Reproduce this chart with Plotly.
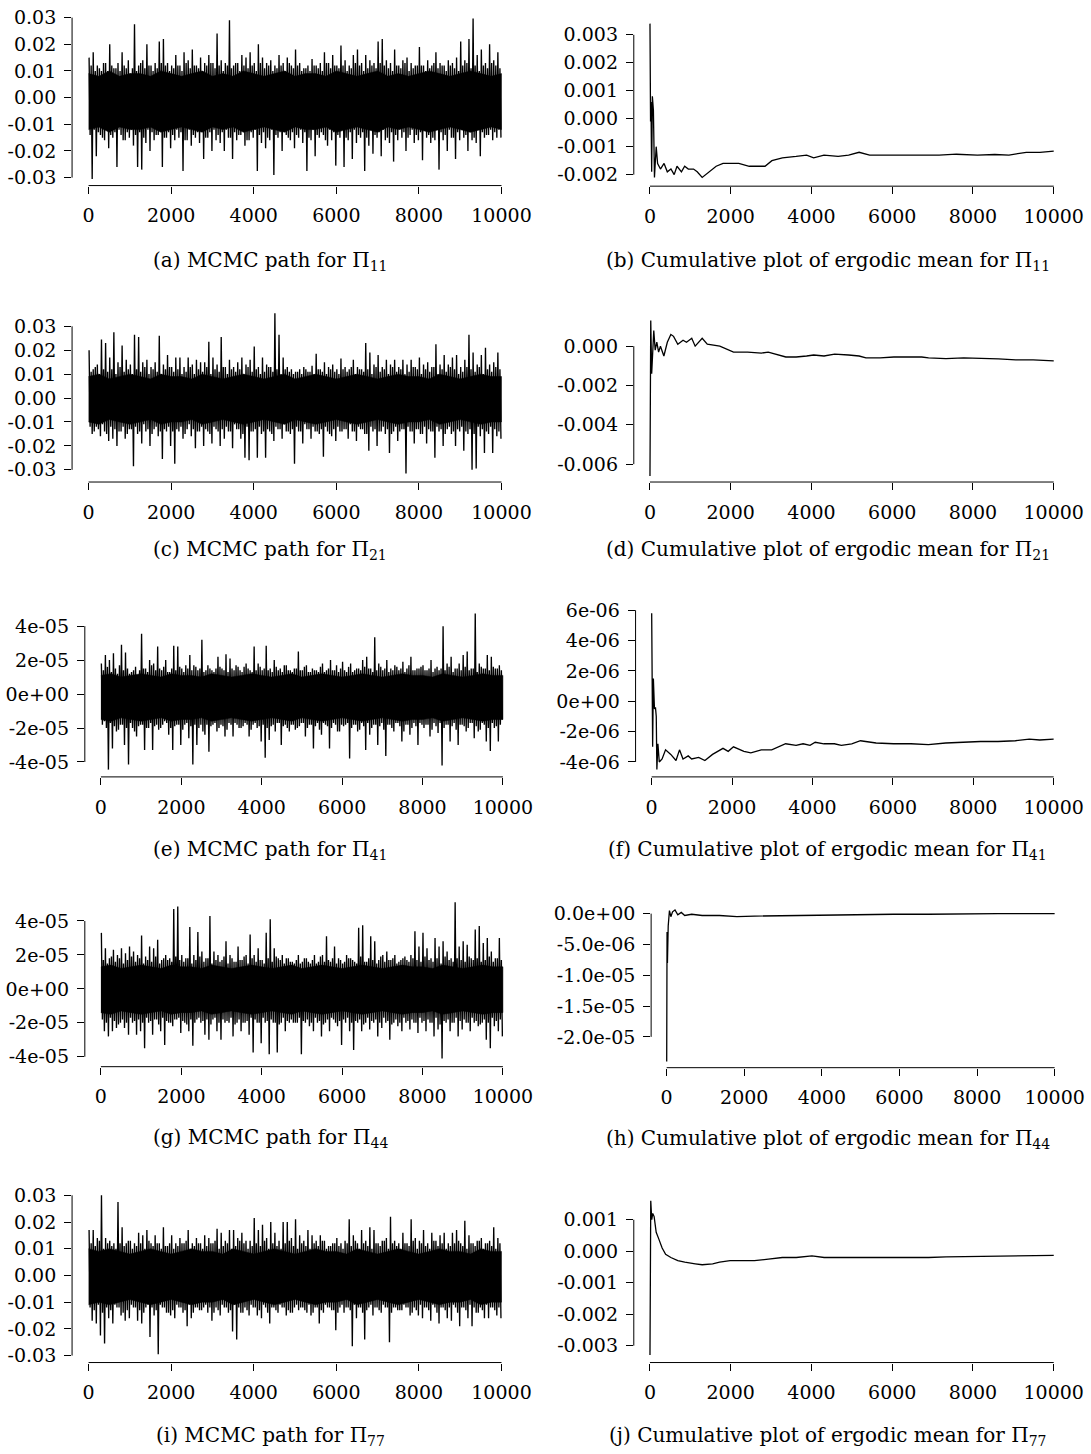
import numpy as np
import plotly.graph_objects as go

W, H = 1091, 1454
N_ITER = 10000
BIN = 100
XS = 1.014  # horizontal calibration of pixel positions

# ---------------- MCMC paths, per 100-iteration bin ----------------
# *_hi / *_lo : tallest upward / downward excursion in the bin
# *_hi2 / *_lo2 : height of the dense fringe next to it
# Pi_11  (units 1e-3)
pi11_hi = [15, 17, 12, 10, 13, 20, 11, 13, 17, 11,
           9, 27.5, 12, 14, 20, 12, 13, 21, 22, 13,
           12, 16, 12, 17, 14, 18, 12, 15, 13, 16,
           13, 24, 14, 13, 29, 12, 13, 16, 15, 17,
           13, 20, 15, 13, 14, 12, 16, 13, 15, 12,
           18, 13, 11, 12, 14.5, 12, 13, 17, 13, 16,
           12, 19.5, 14, 12, 16, 18, 13, 16, 14, 13,
           21, 22, 14, 13, 18, 12, 14, 15, 13, 12,
           19, 12, 14, 12, 17, 13, 12, 14, 13, 15,
           21, 14, 22, 29.7, 16, 18, 13, 20, 14, 17]
pi11_lo = [-30.5, -22, -14, -16, -19, -15, -26, -14, -16, -15,
           -18, -26, -27, -17, -20, -16, -14, -26, -15, -19,
           -16, -15, -27.5, -16, -18, -15, -17, -23, -15, -20,
           -16, -17, -20, -15, -23, -16, -14, -18, -16, -15,
           -27.5, -17, -19, -16, -29, -15, -20, -14, -16, -19,
           -15, -17, -27.5, -16, -22, -15, -14, -18, -16, -25.5,
           -15, -26, -16, -23, -17, -15, -27.5, -18, -21, -15,
           -22, -16, -17, -24, -16, -15, -20, -14, -17, -16,
           -23.5, -15, -17, -16, -27, -16, -20, -15, -23, -16,
           -15, -20, -16, -17, -22, -15, -14, -16, -15, -15]
pi11_hi2 = [12, 10, 11, 13, 10, 12, 11, 10, 12, 14, 11, 10, 13, 11, 12, 10, 11, 13, 12, 10,
            11, 12, 10, 13, 11, 12, 11, 10, 12, 13, 11, 12, 10, 12, 11, 13, 10, 12, 11, 12,
            10, 13, 11, 12, 10, 11, 12, 10, 13, 11, 12, 10, 11, 10, 12, 11, 10, 13, 11, 12,
            11, 12, 10, 11, 13, 12, 10, 11, 12, 11, 13, 12, 11, 10, 12, 11, 13, 10, 11, 12,
            12, 10, 11, 13, 11, 12, 10, 12, 11, 10, 12, 13, 11, 12, 10, 12, 11, 13, 12, 11]
pi11_lo2 = [-14, -12, -13, -15, -12, -14, -13, -12, -16, -13, -12, -14, -13, -15, -12, -13,
            -14, -12, -15, -13, -14, -12, -13, -16, -12, -14, -13, -12, -15, -13, -12, -14,
            -13, -12, -15, -13, -14, -12, -16, -13, -12, -14, -13, -15, -12, -14, -13, -12,
            -15, -13, -14, -12, -13, -15, -12, -14, -13, -16, -12, -13, -14, -12, -15, -13,
            -12, -14, -13, -15, -12, -14, -13, -12, -15, -13, -14, -12, -13, -15, -12, -14,
            -13, -12, -14, -15, -12, -13, -14, -12, -15, -13, -12, -14, -13, -15, -12, -13,
            -14, -12, -13, -12]
pi11_core_hi = [9, 8, 10, 8, 9, 9, 8, 10, 9, 8, 9, 10, 8, 9, 8, 10, 9, 8, 9, 10,
                8, 9, 9, 8, 10, 9, 8, 9, 10, 8, 9, 8, 9, 10, 9, 8, 9, 10, 9, 8, 9]
pi11_core_lo = [-12, -11, -13, -11, -12, -12, -11, -13, -12, -11, -12, -13, -11, -12, -11,
                -13, -12, -11, -12, -13, -11, -12, -12, -11, -13, -12, -11, -12, -13, -11,
                -12, -11, -12, -13, -12, -11, -12, -13, -12, -11, -12]

# Pi_21  (units 1e-3)
pi21_hi = [20, 12, 14, 24.5, 23, 17, 27.5, 15, 22, 16,
           14, 26.5, 25.5, 15, 16, 13, 15, 26, 14, 18,
           13, 17, 17, 13, 17, 14, 16, 15, 15, 23.5,
           17, 14, 25.5, 13, 16, 13, 15, 17, 14, 16,
           21.5, 13, 17, 14, 13, 35.5, 26.5, 17, 13, 12,
           11, 12, 13, 11, 13.5, 18.5, 12, 15, 13, 14,
           12, 16.5, 13, 12, 16, 13, 12, 23, 19, 14,
           18, 13, 16, 14, 16, 13, 16, 14, 16, 13,
           17, 14, 15, 13, 22.5, 14, 18, 14, 17, 18,
           13, 16, 26.5, 19, 14, 18, 21, 14, 15, 19]
pi21_lo = [-15, -12, -16, -14, -18, -17, -20, -14, -17, -13,
           -28.5, -15, -19, -14, -20, -13, -16, -25.5, -14, -20,
           -27.5, -14, -17, -13, -16, -21, -14, -20, -14, -19,
           -13, -20, -17, -14, -21, -13, -17, -25, -26, -14,
           -25, -15, -25, -14, -18, -13, -17, -14, -15, -27.5,
           -14, -19, -13, -17, -14, -15, -24.5, -14, -16, -18,
           -14, -13, -17, -14, -18, -13, -15, -22, -14, -20,
           -14, -15, -23, -14, -18, -13, -31.5, -14, -19, -13,
           -15, -19, -14, -25, -14, -20, -13, -15, -20, -14,
           -22, -15, -30, -29.5, -16, -23, -15, -23, -16, -17]
pi21_hi2 = [11, 13, 10, 12, 11, 12, 10, 13, 11, 12, 10, 12, 11, 13, 10, 12, 11, 10, 12, 13,
            11, 12, 10, 11, 13, 10, 12, 11, 13, 10, 12, 11, 13, 10, 12, 11, 12, 10, 13, 11,
            12, 10, 11, 13, 11, 12, 10, 12, 11, 10, 11, 10, 12, 11, 10, 12, 11, 10, 12, 11,
            10, 12, 11, 13, 10, 12, 11, 12, 10, 13, 11, 12, 10, 13, 11, 12, 10, 11, 13, 12,
            10, 12, 11, 13, 10, 12, 11, 13, 12, 10, 11, 13, 12, 11, 13, 10, 12, 11, 13, 12]
pi21_lo2 = [-12, -14, -13, -11, -15, -12, -13, -14, -12, -15, -13, -12, -14, -11, -13, -15,
            -12, -14, -13, -12, -14, -13, -12, -15, -11, -13, -14, -12, -13, -15, -12, -14,
            -13, -12, -14, -11, -13, -15, -12, -14, -13, -12, -14, -13, -15, -12, -13, -11,
            -14, -13, -12, -14, -11, -13, -12, -14, -13, -12, -15, -13, -12, -14, -13, -11,
            -14, -12, -13, -15, -12, -13, -14, -12, -13, -15, -12, -14, -13, -12, -14, -13,
            -15, -12, -13, -14, -12, -13, -15, -12, -14, -13, -12, -14, -13, -15, -12, -13,
            -14, -12, -13, -14]
pi21_core_hi = [9, 10, 8, 9, 10, 9, 8, 10, 9, 9, 8, 10, 9, 8, 9, 10, 9, 8, 9, 10,
                8, 9, 10, 9, 8, 9, 10, 9, 8, 9, 10, 9, 9, 8, 10, 9, 8, 9, 10, 9, 9]
pi21_core_lo = [-10, -11, -9, -10, -11, -10, -9, -11, -10, -10, -9, -11, -10, -9, -10,
                -11, -10, -9, -10, -11, -9, -10, -11, -10, -9, -10, -11, -10, -9, -10,
                -11, -10, -10, -9, -11, -10, -9, -10, -11, -10, -10]

# Pi_41  (units 1e-6)
pi41_hi = [18, 23, 20, 24, 12, 29, 24.5, 12, 14, 11,
           35.5, 15, 20, 18, 28, 14, 20, 13, 28.5, 28,
           15, 17, 23, 17, 14, 32, 14, 15, 13, 22,
           15, 23.5, 21, 14, 16, 13, 18, 14, 28, 18,
           14, 28.5, 15, 20, 14, 13, 17, 14, 15, 25,
           14, 17, 13, 14, 13, 18, 14, 20, 14, 13,
           19, 13, 18, 14, 15, 20, 22, 15, 33.5, 18,
           14, 20, 15, 17, 14, 19, 15, 22, 14, 15,
           17, 14, 20, 15, 14, 40, 18, 22, 15, 18,
           23, 25, 15, 47.5, 18, 15, 23, 22, 15, 17]
pi41_lo = [-16, -44.5, -32, -22, -18, -30, -41.5, -20, -25, -18,
           -33, -20, -33, -18, -20, -16, -24, -33, -18, -30,
           -18, -26, -41.5, -30, -18, -24, -34, -18, -22, -18,
           -25, -17, -25, -18, -20, -17, -25, -18, -20, -28,
           -37.5, -27, -18, -17, -30, -18, -22, -18, -20, -17,
           -25, -18, -32, -17, -24, -18, -32, -17, -22, -18,
           -18, -38, -18, -22, -17, -33, -24, -18, -30, -17,
           -36.5, -18, -22, -17, -28, -18, -24, -17, -30, -18,
           -18, -25, -17, -23, -42, -18, -28, -17, -30, -18,
           -22, -17, -26, -22, -17, -28, -33.5, -20, -28, -15]
pi41_hi2 = [14, 16, 13, 15, 17, 14, 15, 13, 16, 14, 15, 13, 17, 14, 15, 16, 13, 15, 14, 16,
            13, 15, 14, 16, 15, 13, 17, 14, 15, 16, 14, 13, 15, 17, 14, 16, 15, 13, 14, 16,
            15, 14, 13, 16, 15, 17, 14, 13, 15, 14, 16, 13, 15, 14, 16, 13, 15, 14, 17, 15,
            14, 16, 13, 15, 14, 16, 15, 13, 14, 16, 15, 13, 14, 16, 15, 13, 17, 14, 15, 16,
            14, 15, 13, 16, 15, 14, 16, 13, 15, 14, 16, 14, 15, 13, 16, 15, 14, 16, 15, 14]
pi41_lo2 = [-18, -20, -17, -19, -21, -18, -20, -17, -22, -19, -18, -20, -17, -19, -21, -18,
            -17, -20, -19, -18, -21, -17, -19, -18, -20, -22, -18, -19, -17, -20, -19, -21,
            -18, -17, -20, -19, -18, -21, -17, -19, -18, -20, -19, -22, -17, -19, -20, -18,
            -21, -19, -17, -20, -18, -19, -21, -17, -19, -20, -18, -22, -19, -17, -20, -18,
            -21, -19, -17, -20, -18, -19, -21, -18, -20, -17, -19, -22, -18, -20, -19, -17,
            -20, -18, -21, -19, -17, -20, -18, -19, -21, -18, -19, -20, -17, -19, -21, -18,
            -20, -17, -19, -18]
pi41_core_hi = [11, 12, 10, 11, 12, 11, 10, 12, 11, 11, 10, 12, 11, 10, 11, 12, 11, 10, 11, 12,
                10, 11, 12, 11, 10, 11, 12, 11, 10, 11, 12, 11, 11, 10, 12, 11, 10, 11, 12, 11, 11]
pi41_core_lo = [-15, -16, -14, -15, -16, -15, -14, -16, -15, -15, -14, -16, -15, -14, -15,
                -16, -15, -14, -15, -16, -14, -15, -16, -15, -14, -15, -16, -15, -14, -15,
                -16, -15, -15, -14, -16, -15, -14, -15, -16, -15, -15]

# Pi_44  (units 1e-6)
pi44_hi = [33, 24, 18, 23, 20, 24, 21, 25, 22, 20,
           31.5, 19, 25, 24, 29, 17, 20, 18, 47, 48.5,
           20, 18, 36.5, 20, 33.5, 22, 18, 43, 22, 20,
           17, 28, 20, 16, 25, 17, 20, 32, 20, 24,
           17, 33, 41, 24, 18, 20, 18, 16, 15, 20,
           16, 18, 15, 20, 16, 20, 31, 16, 25, 18,
           15, 20, 18, 16, 36, 37.5, 16, 31, 28, 17,
           20, 22, 17, 20, 16, 18, 17, 20, 34, 25,
           33, 24, 18, 30, 25, 28, 22, 18, 51, 25,
           28, 26, 18, 35, 37, 27, 30, 22, 18, 30]
pi44_lo = [-25, -28, -25, -23, -20, -23, -27, -20, -27, -25,
           -35, -20, -27, -18, -25, -33, -20, -22, -18, -26,
           -20, -25, -33.5, -18, -20, -27, -30, -18, -25, -30,
           -20, -20, -28, -20, -25, -20, -27, -37.5, -20, -32,
           -20, -38.5, -20, -37.5, -20, -25, -20, -20, -20, -38.5,
           -20, -22, -25, -20, -28, -20, -25, -18, -22, -33,
           -20, -25, -36, -20, -25, -20, -24, -20, -28, -23,
           -20, -30, -20, -22, -25, -20, -24, -20, -26, -20,
           -25, -20, -28, -24, -41, -20, -25, -20, -28, -24,
           -20, -25, -20, -22, -20, -30, -35, -22, -25, -28]
pi44_hi2 = [17, 15, 19, 16, 18, 15, 17, 19, 16, 18, 15, 17, 16, 19, 15, 18, 17, 16, 19, 17,
            16, 18, 15, 17, 19, 16, 18, 15, 17, 16, 19, 15, 18, 16, 17, 19, 15, 18, 16, 17,
            15, 18, 16, 19, 17, 15, 18, 16, 17, 15, 18, 16, 17, 15, 19, 16, 17, 18, 15, 17,
            16, 18, 17, 15, 19, 16, 18, 17, 15, 19, 16, 17, 18, 15, 17, 19, 16, 18, 17, 16,
            19, 17, 16, 18, 15, 19, 17, 16, 18, 17, 16, 19, 17, 18, 16, 17, 19, 16, 18, 17]
pi44_lo2 = [-18, -20, -17, -19, -21, -18, -20, -17, -19, -18, -20, -17, -19, -18, -21, -17,
            -19, -20, -18, -17, -19, -21, -18, -20, -17, -19, -18, -21, -17, -20, -18, -19,
            -17, -21, -18, -20, -19, -17, -18, -20, -17, -19, -18, -20, -21, -17, -19, -18,
            -20, -17, -19, -18, -20, -17, -19, -21, -18, -17, -20, -19, -18, -17, -20, -19,
            -18, -21, -17, -19, -18, -20, -17, -19, -21, -18, -20, -17, -19, -18, -20, -17,
            -19, -18, -20, -17, -21, -19, -18, -20, -17, -19, -18, -20, -17, -19, -21, -18,
            -20, -17, -19, -18]
pi44_core_hi = [13, 14, 12, 13, 14, 13, 12, 14, 13, 13, 12, 14, 13, 12, 13, 14, 13, 12, 13, 14,
                12, 13, 14, 13, 12, 13, 14, 13, 12, 13, 14, 13, 13, 12, 14, 13, 12, 13, 14, 13, 13]
pi44_core_lo = [-14, -15, -13, -14, -15, -14, -13, -15, -14, -14, -13, -15, -14, -13, -14,
                -15, -14, -13, -14, -15, -13, -14, -15, -14, -13, -14, -15, -14, -13, -14,
                -15, -14, -14, -13, -15, -14, -13, -14, -15, -14, -14]

# Pi_77  (units 1e-3)
pi77_hi = [17, 17, 14, 30, 14, 13, 12, 27.5, 18, 12,
           13, 12, 16, 15, 17, 12, 15, 12, 18, 11,
           15, 12, 14, 12, 17, 12, 14, 12, 15, 14,
           12, 17.5, 16, 13, 17, 17, 14, 16, 13, 13,
           21.5, 17, 19, 14, 20, 16, 13, 20, 20, 14,
           21, 15, 13, 17, 15, 13, 15, 13, 11, 12,
           14, 12, 13, 21, 15, 12, 17, 13, 18, 17,
           12, 13, 14, 22, 13, 12, 16, 12, 21, 14,
           13, 17, 12, 16, 13, 15, 16, 12, 16, 17,
           12, 20.5, 15, 12, 13, 14, 12, 13, 18, 14]
pi77_lo = [-17, -18, -22.5, -25.5, -16, -18, -12, -15, -17, -16,
           -12, -17, -18, -12, -23, -15, -29.5, -12, -14, -15,
           -16, -12, -14, -19, -16, -12, -13, -12, -14, -17,
           -12, -15, -12, -14, -21, -24, -14, -12, -15, -12,
           -15, -16, -12, -18, -12, -14, -12, -15, -14, -12,
           -13, -12, -14, -15, -12, -18, -14, -12, -13, -20.5,
           -12, -14, -12, -26.5, -16, -12, -24, -12, -15, -12,
           -14, -12, -25, -12, -13, -13, -12, -15, -12, -15,
           -16, -12, -17, -12, -18, -12, -16, -17, -12, -19,
           -12, -16, -19, -14, -12, -16, -16, -12, -15, -16]
pi77_hi2 = [12, 11, 13, 10, 12, 11, 10, 12, 11, 13, 10, 11, 12, 10, 13, 11, 12, 10, 11, 12,
            10, 11, 12, 13, 10, 11, 12, 10, 11, 12, 13, 10, 11, 12, 10, 11, 13, 12, 10, 11,
            12, 11, 13, 10, 12, 11, 10, 12, 13, 11, 10, 12, 11, 10, 12, 11, 13, 10, 11, 12,
            11, 10, 12, 11, 13, 10, 12, 11, 10, 12, 11, 13, 10, 12, 11, 10, 12, 11, 13, 10,
            12, 11, 10, 13, 11, 12, 10, 11, 12, 13, 11, 10, 12, 11, 13, 10, 12, 11, 10, 12]
pi77_lo2 = [-12, -13, -11, -14, -12, -13, -11, -12, -14, -13, -11, -12, -13, -14, -11, -12,
            -13, -11, -12, -14, -13, -11, -12, -13, -11, -14, -12, -13, -11, -12, -14, -13,
            -11, -12, -13, -11, -12, -14, -13, -11, -12, -13, -11, -14, -12, -13, -11, -12,
            -13, -14, -11, -12, -13, -11, -14, -12, -13, -11, -12, -13, -14, -11, -12, -13,
            -11, -12, -14, -13, -11, -12, -13, -11, -12, -14, -12, -13, -11, -12, -14, -13,
            -11, -12, -13, -11, -14, -12, -13, -12, -11, -14, -12, -13, -11, -12, -14, -13,
            -11, -12, -13, -12]
pi77_core_hi = [10, 9, 10, 9, 8, 9, 10, 9, 8, 9, 10, 9, 9, 8, 10, 9, 8, 9, 10, 9,
                8, 9, 10, 9, 9, 8, 10, 9, 8, 9, 10, 9, 8, 9, 10, 9, 9, 8, 10, 9, 9]
pi77_core_lo = [-11, -10, -11, -10, -9, -10, -11, -10, -9, -10, -11, -10, -10, -9, -11,
                -10, -9, -10, -11, -10, -9, -10, -11, -10, -10, -9, -11, -10, -9, -10,
                -11, -10, -9, -10, -11, -10, -10, -9, -11, -10, -10]

core_iter = [250 * k for k in range(41)]

# ---------------- cumulative ergodic means ----------------
cm11_iter = [1, 8, 15, 25, 43, 60, 86, 112, 135, 155, 190, 260, 350, 430, 520, 600, 670, 780,
             860, 950, 1080, 1170, 1294, 1460, 1640, 1810, 1980, 2200, 2460, 2650, 2850, 3020,
             3280, 3620, 3880, 4055, 4310, 4660, 4920, 5180, 5440, 5700, 6040, 6470, 6820,
             7160, 7590, 8110, 8540, 8890, 9320, 9660, 10000]
cm11_val = [0.0034, 0.0010, -0.0001, 0.0006, -0.0019, 0.0008, 0.0003, -0.0021, -0.0015, -0.0010,
            -0.0016, -0.0018, -0.0016, -0.0019, -0.0018, -0.0020, -0.0017, -0.0019, -0.0017,
            -0.0018, -0.0018, -0.0019, -0.0021, -0.0019, -0.0017, -0.0016, -0.0016, -0.0016,
            -0.0017, -0.0017, -0.0017, -0.0015, -0.0014, -0.00135, -0.0013, -0.0014, -0.0013,
            -0.00135, -0.0013, -0.0012, -0.0013, -0.0013, -0.0013, -0.00132, -0.00132, -0.0013,
            -0.00127, -0.0013, -0.00128, -0.0013, -0.0012, -0.0012, -0.00116]

cm21_iter = [1, 20, 43, 70, 95, 130, 170, 215, 260, 345, 430, 518, 585, 690, 820, 905, 1035,
             1120, 1294, 1420, 1730, 2070, 2420, 2760, 2930, 3365, 3620, 3880, 4055, 4310, 4573,
             4920, 5180, 5350, 5700, 6040, 6470, 6730, 6900, 7330, 7770, 8200, 8630, 9060, 9490,
             10000]
cm21_val = [-0.0066, 0.0013, -0.0014, -0.0004, 0.0008, -0.0002, 0.0002, -0.0003, 0.0000, -0.0005,
            0.0002, 0.0006, 0.0005, 0.0001, 0.0003, 0.0002, 0.0004, 0.0000, 0.0004, 0.0001,
            0.0000, -0.0003, -0.0003, -0.00035, -0.0003, -0.00055, -0.00055, -0.0005, -0.00045,
            -0.0005, -0.0004, -0.00045, -0.0005, -0.0006, -0.0006, -0.00055, -0.00055, -0.00055,
            -0.0006, -0.00063, -0.0006, -0.00062, -0.00065, -0.0007, -0.0007, -0.00075]

# units 1e-6
cm41_iter = [1, 25, 43, 70, 95, 115, 130, 156, 190, 260, 346, 476, 606, 693, 780, 910, 995,
             1170, 1325, 1515, 1775, 1905, 2035, 2295, 2468, 2727, 2987, 3333, 3593, 3766, 3940,
             4069, 4286, 4545, 4719, 4978, 5195, 5584, 6017, 6450, 6883, 7316, 7749, 8182, 8615,
             9048, 9394, 9654, 10000]
cm41_val = [5.8, -3.0, 1.5, -0.5, -0.4, -1.0, -4.5, -2.8, -4.0, -3.8, -3.2, -3.5, -3.9, -3.2,
            -3.8, -3.6, -3.8, -3.7, -3.9, -3.5, -3.1, -3.3, -3.0, -3.3, -3.4, -3.2, -3.2, -2.8,
            -2.9, -2.8, -2.9, -2.7, -2.8, -2.8, -2.9, -2.8, -2.6, -2.75, -2.8, -2.8, -2.85,
            -2.75, -2.7, -2.65, -2.65, -2.6, -2.5, -2.55, -2.5]

# units 1e-6
cm44_iter = [1, 10, 20, 40, 72, 108, 152, 215, 287, 377, 466, 645, 915, 1363, 1812, 2260, 3157,
             4054, 4951, 5848, 6745, 7642, 8539, 10000]
cm44_val = [-24, -3, -8, -2, 0.5, -0.5, 0.3, 0.6, -0.2, 0.2, -0.3, -0.1, -0.3, -0.3, -0.5, -0.4,
            -0.3, -0.2, -0.1, -0.1, -0.1, 0.0, 0.0, 0.0]

cm77_iter = [1, 20, 45, 69, 104, 155, 216, 302, 388, 518, 690, 863, 1122, 1294, 1553, 1726, 1984,
             2243, 2588, 2933, 3279, 3624, 4012, 4314, 4745, 5177, 5608, 6040, 6471, 6902, 7334,
             7765, 8628, 9491, 10000]
cm77_val = [-0.0033, 0.0016, 0.0010, 0.0012, 0.0011, 0.0006, 0.0004, 0.0001, -0.0001, -0.0002,
            -0.0003, -0.00035, -0.0004, -0.00043, -0.0004, -0.00035, -0.0003, -0.0003, -0.0003,
            -0.00025, -0.0002, -0.0002, -0.00015, -0.0002, -0.0002, -0.00022, -0.0002, -0.00022,
            -0.0002, -0.0002, -0.00018, -0.00017, -0.00015, -0.00014, -0.00013]

# ---------------- tick labels ----------------
x_ticks = [0, 2000, 4000, 6000, 8000, 10000]
x_ticktext = ["0", "2000", "4000", "6000", "8000", "10000"]
yt_path_3 = [-0.03, -0.02, -0.01, 0.0, 0.01, 0.02, 0.03]
yt_path_3_text = ["-0.03", "-0.02", "-0.01", "0.00", "0.01", "0.02", "0.03"]
yt_path_5 = [-4e-05, -2e-05, 0.0, 2e-05, 4e-05]
yt_path_5_text = ["-4e-05", "-2e-05", "0e+00", "2e-05", "4e-05"]
yt_b = [-0.002, -0.001, 0.0, 0.001, 0.002, 0.003]
yt_b_text = ["-0.002", "-0.001", "0.000", "0.001", "0.002", "0.003"]
yt_d = [-0.006, -0.004, -0.002, 0.0]
yt_d_text = ["-0.006", "-0.004", "-0.002", "0.000"]
yt_f = [-4e-06, -2e-06, 0.0, 2e-06, 4e-06, 6e-06]
yt_f_text = ["-4e-06", "-2e-06", "0e+00", "2e-06", "4e-06", "6e-06"]
yt_h = [-2e-05, -1.5e-05, -1e-05, -5e-06, 0.0]
yt_h_text = ["-2.0e-05", "-1.5e-05", "-1.0e-05", "-5.0e-06", "0.0e+00"]
yt_j = [-0.003, -0.002, -0.001, 0.0, 0.001]
yt_j_text = ["-0.003", "-0.002", "-0.001", "0.000", "0.001"]

captions = [
    "(a) MCMC path for \u03a0<sub>11</sub>",
    "(b) Cumulative plot of ergodic mean for \u03a0<sub>11</sub>",
    "(c) MCMC path for \u03a0<sub>21</sub>",
    "(d) Cumulative plot of ergodic mean for \u03a0<sub>21</sub>",
    "(e) MCMC path for \u03a0<sub>41</sub>",
    "(f) Cumulative plot of ergodic mean for \u03a0<sub>41</sub>",
    "(g) MCMC path for \u03a0<sub>44</sub>",
    "(h) Cumulative plot of ergodic mean for \u03a0<sub>44</sub>",
    "(i) MCMC path for \u03a0<sub>77</sub>",
    "(j) Cumulative plot of ergodic mean for \u03a0<sub>77</sub>",
]

# ---------------- layout geometry (pixels) ----------------
FONT = "DejaVu Serif"
TICK_SIZE = 19
CAP_SIZE = 20

# (x-pixel of iteration 0, of 10000), (tick value, pixel), (tick value, pixel), bottom px, top px
geom = [
    (88.5, 501.0, 0.03, 12.7, -0.03, 173.7, 181.7, 6),
    (649.3, 1052.7, 0.003, 30.0, -0.002, 170.7, 182.3, 12),
    (88.5, 501.0, 0.03, 323.3, -0.03, 467.7, 480.0, 305),
    (649.3, 1052.7, 0.0, 343.3, -0.006, 462.0, 480.0, 310),
    (100.8, 502.4, 4e-05, 625.0, -4e-05, 761.7, 776.7, 607),
    (651.0, 1052.6, 6e-06, 609.0, -4e-06, 761.7, 776.7, 602),
    (100.8, 502.4, 4e-05, 921.7, -4e-05, 1058.3, 1068.3, 898),
    (666.0, 1053.6, 0.0, 914.3, -2e-05, 1038.3, 1069.3, 906),
    (88.5, 501.0, 0.03, 1197.7, -0.03, 1359.0, 1366.0, 1191),
    (649.3, 1052.7, 0.001, 1222.3, -0.003, 1349.0, 1366.0, 1196),
]
caption_pos = [(270, 258), (827, 258), (270, 548), (827, 548), (270, 850), (827, 850),
               (270, 1140), (827, 1141), (270, 1440), (827, 1440)]

yticks_all = [(yt_path_3, yt_path_3_text), (yt_b, yt_b_text), (yt_path_3, yt_path_3_text),
              (yt_d, yt_d_text), (yt_path_5, yt_path_5_text), (yt_f, yt_f_text),
              (yt_path_5, yt_path_5_text), (yt_h, yt_h_text), (yt_path_3, yt_path_3_text),
              (yt_j, yt_j_text)]

fig = go.Figure()
shapes = []
annotations = []
layout_axes = {}


def ax_names(n):
    return ("x" if n == 1 else f"x{n}"), ("y" if n == 1 else f"y{n}")


def path_trace(hi, lo2, hi2, lo, unit):
    xs, ys = [], []
    for i in range(len(hi)):
        xs += [BIN * i + 12, BIN * i + 37, BIN * i + 62, BIN * i + 87]
        ys += [hi[i] * unit, lo2[i] * unit, hi2[i] * unit, lo[i] * unit]
    return xs, ys


paths = [(pi11_hi, pi11_lo2, pi11_hi2, pi11_lo, pi11_core_hi, pi11_core_lo, 1e-3),
         (pi21_hi, pi21_lo2, pi21_hi2, pi21_lo, pi21_core_hi, pi21_core_lo, 1e-3),
         (pi41_hi, pi41_lo2, pi41_hi2, pi41_lo, pi41_core_hi, pi41_core_lo, 1e-6),
         (pi44_hi, pi44_lo2, pi44_hi2, pi44_lo, pi44_core_hi, pi44_core_lo, 1e-6),
         (pi77_hi, pi77_lo2, pi77_hi2, pi77_lo, pi77_core_hi, pi77_core_lo, 1e-3)]
means = [(cm11_iter, cm11_val, 1.0), (cm21_iter, cm21_val, 1.0), (cm41_iter, cm41_val, 1e-6),
         (cm44_iter, cm44_val, 1e-6), (cm77_iter, cm77_val, 1.0)]

for k in range(10):
    n = k + 1
    xa, ya = ax_names(n)
    x0p, x1p, vh, ph, vl, pl, pb, pt = geom[k]
    x0p *= XS
    x1p *= XS
    sx = (x1p - x0p) / N_ITER
    left_px = x0p - 0.04 * N_ITER * sx
    right_px = min(x1p + 0.04 * N_ITER * sx, W)
    sy = (pl - ph) / (vh - vl)
    yval = lambda p: vh - (p - ph) / sy
    yr = [yval(pb), yval(pt)]
    xr = [-0.04 * N_ITER, -0.04 * N_ITER + (right_px - left_px) / sx]

    tv, tt = yticks_all[k]
    axis_common = dict(showgrid=False, zeroline=False, showline=False, ticks="outside",
                       ticklen=7, tickwidth=1, tickcolor="black",
                       tickfont=dict(family=FONT, size=TICK_SIZE, color="black"))
    layout_axes["xaxis" if n == 1 else f"xaxis{n}"] = dict(
        domain=[left_px / W, right_px / W], range=xr,
        anchor=ya, tickvals=x_ticks, ticktext=x_ticktext, ticklabelstandoff=6, **axis_common)
    layout_axes["yaxis" if n == 1 else f"yaxis{n}"] = dict(
        domain=[1 - pb / H, 1 - pt / H], range=yr, anchor=xa,
        tickvals=tv, ticktext=tt, ticklabelstandoff=4, **axis_common)

    # R-style axis lines spanning the tick range only
    shapes.append(dict(type="line", xref=f"{xa} domain", yref=ya, x0=0, x1=0,
                       y0=min(tv), y1=max(tv), line=dict(color="black", width=1)))
    shapes.append(dict(type="line", xref=xa, yref=f"{ya} domain", x0=min(x_ticks),
                       x1=max(x_ticks), y0=0, y1=0, line=dict(color="black", width=1)))

    if k % 2 == 0:
        hi, lo2, hi2, lo, chi, clo, unit = paths[k // 2]
        cx = core_iter + core_iter[::-1]
        cy = [v * unit for v in chi] + [v * unit for v in clo[::-1]]
        fig.add_trace(go.Scatter(x=cx, y=cy, xaxis=xa, yaxis=ya, mode="lines", fill="toself",
                                 fillcolor="black", line=dict(width=0.5, color="black"),
                                 hoverinfo="skip", showlegend=False))
        xs, ys = path_trace(hi, lo2, hi2, lo, unit)
        fig.add_trace(go.Scatter(x=xs, y=ys, xaxis=xa, yaxis=ya, mode="lines",
                                 line=dict(color="black", width=1.35),
                                 showlegend=False))
    else:
        it, val, unit = means[k // 2]
        fig.add_trace(go.Scatter(x=it, y=[v * unit for v in val], xaxis=xa, yaxis=ya,
                                 mode="lines", line=dict(color="black", width=1.3),
                                 showlegend=False))

    cxp, cyp = caption_pos[k]
    annotations.append(dict(text=captions[k], xref="paper", yref="paper",
                            x=cxp * XS / W, y=1 - cyp / H, xanchor="center", yanchor="middle",
                            showarrow=False,
                            font=dict(family=FONT, size=CAP_SIZE, color="black")))

fig.update_layout(
    width=W, height=H, autosize=False, margin=dict(l=0, r=0, t=0, b=0, pad=0),
    paper_bgcolor="white", plot_bgcolor="white", showlegend=False,
    shapes=shapes, annotations=annotations, **layout_axes)

fig.write_html(
    "out.html", config={"displayModeBar": False, "responsive": False},
    post_script=("document.documentElement.style.margin='0px';"
                 "document.body.style.margin='0px';"
                 "document.body.style.padding='0px';"
                 "document.documentElement.style.overflow='hidden';"
                 "document.body.style.overflow='hidden';"))
